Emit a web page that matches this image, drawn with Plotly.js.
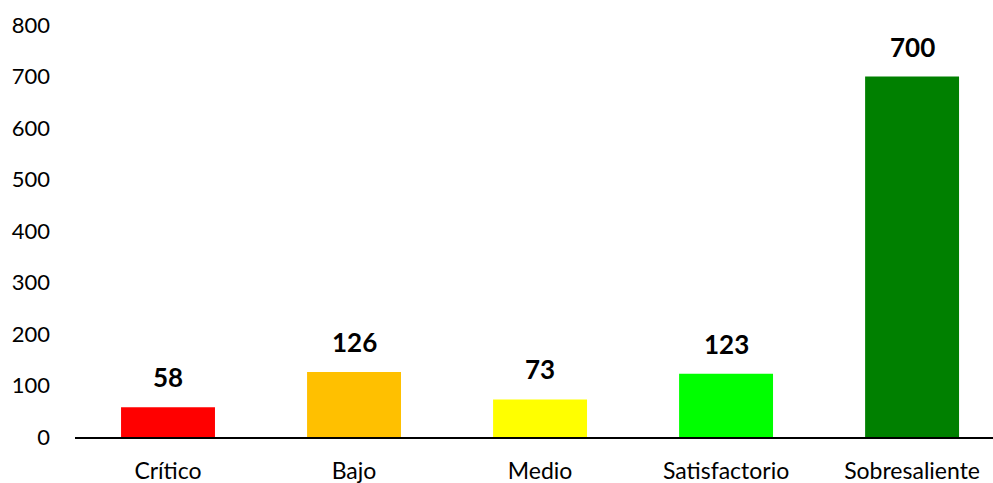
<!DOCTYPE html>
<html><head><meta charset="utf-8">
<script src="https://cdn.plot.ly/plotly-3.0.1.min.js"></script>
<style>html,body{margin:0;padding:0;background:#fff}#c{width:993px;height:483px}</style>
</head><body><div id="c"></div>
<script>
const categories = ["Crítico", "Bajo", "Medio", "Satisfactorio", "Sobresaliente"];
const values = [58, 126, 73, 123, 700];
const colors = ["#FF0000", "#FFC000", "#FFFF00", "#00FF00", "#008000"];
const yTicks = [0, 100, 200, 300, 400, 500, 600, 700, 800];

const FONT = "Lato, 'Open Sans', 'Liberation Sans', sans-serif";
const trace = {
  type: "bar", x: categories, y: values,
  marker: {color: colors, line: {width: 0}},
  hoverinfo: "none"
};
const annotations = categories.map((c, i) => ({
  x: c, y: values[i], xref: "x", yref: "y", text: "<b>" + values[i] + "</b>",
  showarrow: false, yanchor: "bottom", yshift: 12,
  font: {family: FONT, size: 26, color: "#000"}
}));
const layout = {
  width: 993, height: 483,
  margin: {l: 75, r: 0, t: 25, b: 46},
  paper_bgcolor: "#fff", plot_bgcolor: "#fff",
  showlegend: false, bargap: 0.495,
  font: {family: FONT, size: 22, color: "#000"},
  xaxis: {range: [-0.5, 4.435], showline: true, linecolor: "#000", linewidth: 2,
          ticks: "", showgrid: false, zeroline: false, fixedrange: true,
          ticklabelstandoff: 12, tickfont: {family: FONT, size: 23, color: "#000"}},
  yaxis: {range: [0, 800], tickvals: yTicks, ticktext: yTicks.map(String),
          showgrid: false, zeroline: false, showline: false, ticks: "",
          ticklabelstandoff: 24, tickfont: {family: FONT, size: 22, color: "#000"}},
  annotations: annotations
};
Plotly.newPlot("c", [trace], layout, {displayModeBar: false, staticPlot: true});
</script></body></html>
